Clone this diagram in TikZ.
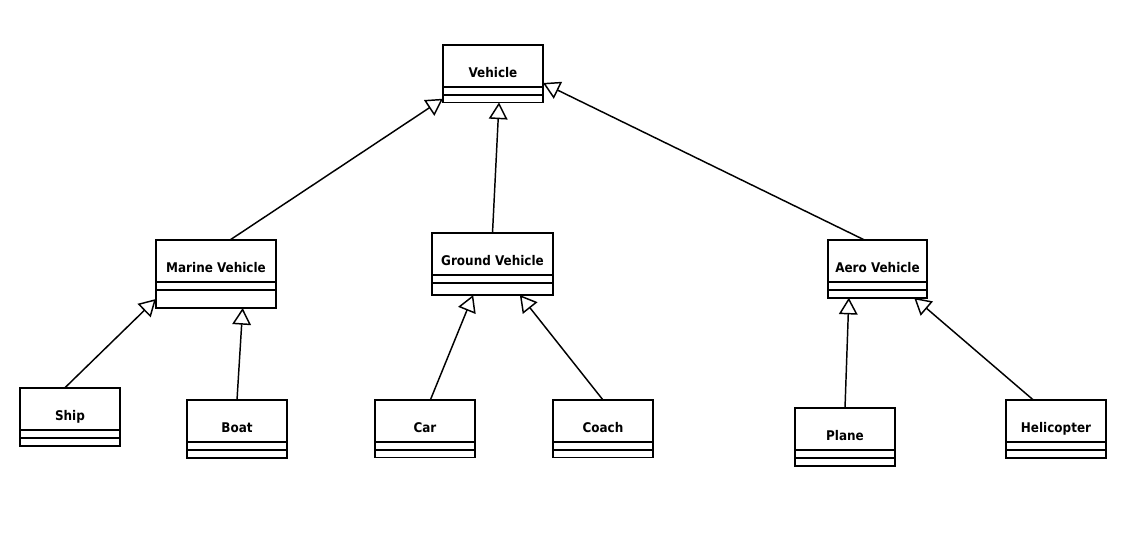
\documentclass[tikz,border=0pt]{standalone}
\usepackage{fontspec}
\setmainfont{DejaVu Sans Condensed}
\usepackage{tikz}
\usetikzlibrary{arrows.meta, positioning}

\tikzset{
  classname/.style={draw, line width=1.3pt, inner sep=0pt, outer sep=0pt, anchor=north west,
                    text height=24pt, text depth=7.5pt, font=\bfseries\fontsize{10}{11}\selectfont},
  classpart/.style={draw, line width=1.3pt, inner sep=0pt, outer sep=0pt, minimum height=6pt},
  inherit/.style={draw, line width=1.1pt, -{Triangle[open, length=12.5pt, width=14pt]}}
}

% name, x, y (pixels), width, label, height of the last compartment
\newcommand{\classbox}[6]{%
  \node[classname, minimum width=#4] (#1) at (#2,#3) {#5};
  \node[classpart, minimum width=#4, below=0pt of #1] (#1-attr) {};
  \node[classpart, minimum width=#4, minimum height=#6, below=0pt of #1-attr] (#1-ops) {};
}

\begin{document}
\begin{tikzpicture}[x=0.75pt, y=-0.75pt]
  \useasboundingbox (0,0) rectangle (1148,554);

  % classes
  \classbox{vehicle}{443}{45}{75pt}{Vehicle}{5.6pt}
  \classbox{marine}{156}{240}{90pt}{Marine Vehicle}{13.5pt}
  \classbox{ground}{432}{233}{90.75pt}{Ground Vehicle}{9pt}
  \classbox{aero}{828}{240}{74.25pt}{Aero Vehicle}{5.8pt}
  \classbox{ship}{20}{388}{75pt}{Ship}{6pt}
  \classbox{boat}{187}{400}{75pt}{Boat}{6pt}
  \classbox{car}{375}{400}{75pt}{Car}{5.6pt}
  \classbox{coach}{553}{400}{75pt}{Coach}{5.6pt}
  \classbox{plane}{795}{408}{75pt}{Plane}{6pt}
  \classbox{heli}{1006}{400}{75pt}{Helicopter}{6pt}

  % generalisations
  \draw[inherit] ([xshift=10.5pt]marine.north) -- (vehicle-ops.west);
  \draw[inherit] (ground.north) -- ([xshift=4.5pt]vehicle-ops.south);
  \draw[inherit] ([xshift=-9.75pt]aero.north) -- ([yshift=3pt]vehicle.south east);

  \draw[inherit] ([xshift=-4pt]ship.north) -- (marine-ops.west);
  \draw[inherit] (boat.north) -- ([xshift=20pt]marine-ops.south);

  \draw[inherit] ([xshift=4pt]car.north) -- ([xshift=-14.5pt]ground-ops.south);
  \draw[inherit] (coach.north) -- ([xshift=20.5pt]ground-ops.south);

  \draw[inherit] (plane.north) -- ([xshift=-21.5pt]aero-ops.south);
  \draw[inherit] ([xshift=-17pt]heli.north) -- ([xshift=27.5pt]aero-ops.south);
\end{tikzpicture}
\end{document}
